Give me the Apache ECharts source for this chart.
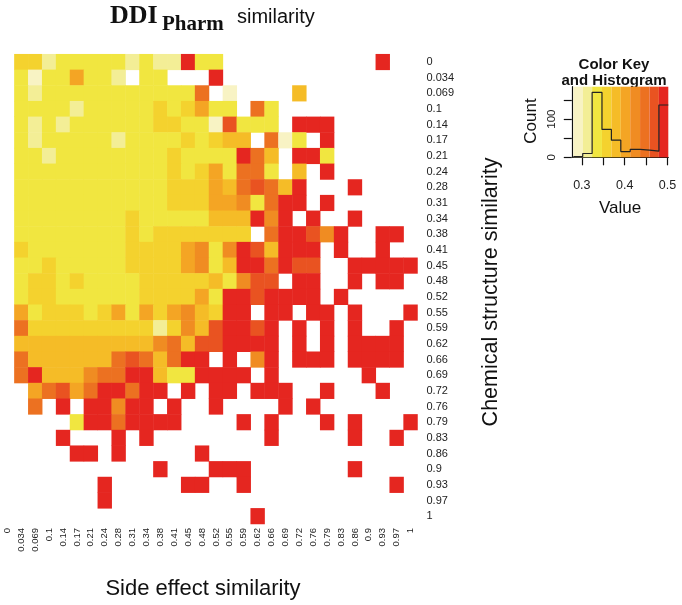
<!DOCTYPE html>
<html><head><meta charset="utf-8">
<script src="https://cdn.jsdelivr.net/npm/echarts@6/dist/echarts.min.js"></script>
<style>html,body{margin:0;padding:0;background:#fff}#c{width:682px;height:605px}</style>
</head><body><div id="c"></div>
<script>
// Tick labels (shared by both axes of the heatmap)
const tickLabels = ['0','0.034','0.069','0.1','0.14','0.17','0.21','0.24','0.28','0.31','0.34','0.38','0.41','0.45','0.48','0.52','0.55','0.59','0.62','0.66','0.69','0.72','0.76','0.79','0.83','0.86','0.9','0.93','0.97','1'];
const _ = null;
// cell values: rows = chemical structure similarity (top=0), columns = side effect similarity
const cellRows = [
/*0*/ [_,.36,.36,.31,.335,.335,.335,.335,.335,.31,.335,.31,.31,.49,.335,.335,_,_,_,_,_,_,_,_,_,_,_,.49,_,_],
/*1*/ [_,.335,.29,.335,.335,.40,.335,.335,.31,_,.335,.335,_,_,_,.49,_,_,_,_,_,_,_,_,_,_,_,_,_,_],
/*2*/ [_,.335,.31,.335,.335,.335,.335,.335,.335,.335,.335,.335,.335,.335,.445,_,.29,_,_,_,_,.38,_,_,_,_,_,_,_,_],
/*3*/ [_,.335,.335,.335,.335,.31,.335,.335,.335,.335,.335,.36,.335,.36,.40,.335,.335,_,.445,.335,_,_,_,_,_,_,_,_,_,_],
/*4*/ [_,.335,.31,.335,.31,.335,.335,.335,.335,.335,.335,.36,.36,.335,.335,.29,.47,.335,.335,.335,_,.49,.49,.49,_,_,_,_,_,_],
/*5*/ [_,.335,.31,.335,.335,.335,.335,.335,.31,.335,.335,.335,.335,.36,.335,.36,.38,.38,_,.445,.29,.335,_,.49,_,_,_,_,_,_],
/*6*/ [_,.335,.335,.31,.335,.335,.335,.335,.335,.335,.335,.335,.36,.335,.335,.335,.335,.49,.445,.38,_,.49,.49,.335,_,_,_,_,_,_],
/*7*/ [_,.335,.335,.335,.335,.335,.335,.335,.335,.335,.335,.335,.36,.335,.36,.40,.335,.445,.445,.335,_,.38,_,.49,_,_,_,_,_,_],
/*8*/ [_,.335,.335,.335,.335,.335,.335,.335,.335,.335,.335,.335,.36,.36,.36,.40,.38,.445,.47,.445,.38,.49,_,_,_,.49,_,_,_,_],
/*9*/ [_,.335,.335,.335,.335,.335,.335,.335,.335,.335,.335,.335,.36,.36,.36,.40,.40,.425,.335,.445,.49,.49,_,.49,_,_,_,_,_,_],
/*10*/[_,.335,.335,.335,.335,.335,.335,.335,.335,.36,.335,.335,.335,.335,.335,.38,.38,.38,.49,.425,.49,_,.49,_,_,.49,_,_,_,_],
/*11*/[_,.335,.335,.335,.335,.335,.335,.335,.335,.36,.335,.36,.36,.36,.36,.36,.36,.36,_,.445,.49,.49,.47,.425,.49,_,_,.49,.49,_],
/*12*/[_,.36,.335,.335,.335,.335,.335,.335,.335,.36,.36,.36,.36,.40,.425,.335,.425,.49,.47,.38,.49,.49,.49,_,.49,_,_,.49,_,_],
/*13*/[_,.335,.335,.36,.335,.335,.335,.335,.335,.36,.36,.36,.36,.40,.425,.335,.38,.49,.49,.445,.49,.47,.47,_,_,.49,.49,.49,.49,.49],
/*14*/[_,.335,.36,.36,.335,.36,.335,.335,.335,.335,.36,.36,.36,.36,.36,.38,.335,.425,.47,.47,_,.49,.49,_,_,.49,_,.49,.49,_],
/*15*/[_,.335,.36,.36,.335,.335,.335,.335,.335,.335,.36,.36,.36,.36,.40,.335,.49,.49,.47,.49,.49,.49,.49,_,.49,_,_,_,_,_],
/*16*/[_,.40,.335,.36,.36,.36,.335,.36,.40,.335,.40,.36,.40,.425,.38,.36,.49,.49,_,.49,.49,_,.49,.49,_,.49,_,_,_,.49],
/*17*/[_,.445,.36,.36,.36,.36,.36,.36,.36,.36,.36,.31,.36,.425,.38,.47,.49,.49,.47,.49,_,.49,_,.49,_,.49,_,_,.49,_],
/*18*/[_,.38,.38,.38,.38,.38,.38,.38,.38,.38,.38,.425,.445,.38,.47,.47,.49,.49,.49,.49,_,.49,_,.49,_,.49,.49,.49,.49,_],
/*19*/[_,.445,.38,.38,.38,.38,.38,.38,.445,.47,.445,.38,.445,.49,.49,_,.49,_,.425,.49,_,.49,.49,.49,_,.49,.49,.49,.49,_],
/*20*/[_,.445,.49,.38,.38,.38,.425,.445,.445,.49,.49,.38,.335,.335,.49,.49,.49,.49,_,.49,_,_,_,_,_,_,.49,_,_,_],
/*21*/[_,_,.40,.445,.47,.40,.445,.49,.49,.445,.49,.49,_,.49,_,.49,.49,_,.49,.49,.49,_,_,.49,_,_,_,.49,_,_],
/*22*/[_,_,.445,_,.49,_,.49,.49,.425,.49,.49,_,.49,_,_,.49,_,_,_,_,.49,_,.49,_,_,_,_,_,_,_],
/*23*/[_,_,_,_,_,.335,.49,.49,.445,.49,.49,.49,.49,_,_,_,_,.49,_,.49,_,_,_,.49,_,.49,_,_,_,.49],
/*24*/[_,_,_,_,.49,_,_,_,.49,_,.49,_,_,_,_,_,_,_,_,.49,_,_,_,_,_,.49,_,_,.49,_],
/*25*/[_,_,_,_,_,.49,.49,_,.49,_,_,_,_,_,.49,_,_,_,_,_,_,_,_,_,_,_,_,_,_,_],
/*26*/[_,_,_,_,_,_,_,_,_,_,_,.49,_,_,_,.49,.49,.49,_,_,_,_,_,_,_,.49,_,_,_,_],
/*27*/[_,_,_,_,_,_,_,.49,_,_,_,_,_,.49,.49,_,_,.49,_,_,_,_,_,_,_,_,_,_,.49,_],
/*28*/[_,_,_,_,_,_,_,.49,_,_,_,_,_,_,_,_,_,_,_,_,_,_,_,_,_,_,_,_,_,_],
/*29*/[_,_,_,_,_,_,_,_,_,_,_,_,_,_,_,_,_,_,.49,_,_,_,_,_,_,_,_,_,_,_]
];
// Color key bins and histogram
const keyEdges = [0.280, 0.302, 0.324, 0.347, 0.369, 0.391, 0.413, 0.436, 0.458, 0.480, 0.502];
const keyColors = ['#F8F3C4','#F3EE96','#F1E640','#F4D22E','#F5BC27','#F4A524','#F08C22','#EC7121','#E95321','#E52620'];
const histCounts = [2, 10, 170, 73, 45, 15, 21, 19, 16, 137];
const keyTickValues = [0.3, 0.35, 0.4, 0.45, 0.5];
const keyLabelValues = [0.3, 0.4, 0.5];
const countTickValues = [0, 50, 100, 150];
const countLabelValues = [0, 100];

const heatData = [];
cellRows.forEach((row, r) => row.forEach((v, c) => { if (v !== null) heatData.push([c, r, v]); }));

const histLine = histCounts.map((n, i) => [keyEdges[i], n]);
histLine.push([keyEdges[keyEdges.length - 1], histCounts[histCounts.length - 1]]);

const pieces = keyColors.map((col, i) => (i === keyColors.length - 1)
  ? { gte: keyEdges[i], lte: keyEdges[i + 1], color: col }
  : { gte: keyEdges[i], lt: keyEdges[i + 1], color: col });

const bands = keyColors.map((col, i) => [
  { xAxis: keyEdges[i], itemStyle: { color: col, opacity: 1 } },
  { xAxis: keyEdges[i + 1] }
]);

const SANS = 'Liberation Sans, Arial, sans-serif';
const SERIF = 'Liberation Serif, Times New Roman, serif';

const chart = echarts.init(document.getElementById('c'), null, { renderer: 'canvas' });
chart.setOption({
  animation: false,
  backgroundColor: '#fff',
  grid: [
    { left: 0.5, top: 54.2, width: 417, height: 469.8 },
    { left: 573.3, top: 86.7, width: 95, height: 70.6 }
  ],
  xAxis: [
    { type: 'category', gridIndex: 0, data: tickLabels, position: 'bottom',
      axisLine: { show: false }, axisTick: { show: false }, splitLine: { show: false },
      axisLabel: { rotate: 90, interval: 0, fontSize: 9.5, margin: 4, color: '#222', fontFamily: SANS } },
    { type: 'value', gridIndex: 1, min: keyEdges[0], max: keyEdges[keyEdges.length - 1],
      splitLine: { show: false },
      axisLine: { show: true, onZero: false, lineStyle: { color: '#111', width: 1.2 } },
      axisTick: { show: true, length: 8, customValues: keyTickValues, lineStyle: { color: '#111', width: 1.2 } },
      axisLabel: { customValues: keyLabelValues, margin: 22, fontSize: 12.5, color: '#222', fontFamily: SANS,
        formatter: v => v.toFixed(1) } }
  ],
  yAxis: [
    { type: 'category', gridIndex: 0, data: tickLabels, inverse: true, position: 'right',
      axisLine: { show: false }, axisTick: { show: false }, splitLine: { show: false },
      axisLabel: { interval: 0, fontSize: 11, margin: 9, color: '#222', fontFamily: SANS } },
    { type: 'value', gridIndex: 1, min: 0, max: 185, position: 'left', offset: 1.5,
      splitLine: { show: false },
      axisLine: { show: true, onZero: false, lineStyle: { color: '#111', width: 1.2 } },
      axisTick: { show: true, length: 8, customValues: countTickValues, lineStyle: { color: '#111', width: 1.2 } },
      axisLabel: { customValues: countLabelValues, rotate: 90, margin: 14, fontSize: 11.5, color: '#222', fontFamily: SANS } }
  ],
  visualMap: { type: 'piecewise', show: false, seriesIndex: 0, dimension: 2, pieces: pieces },
  series: [
    { type: 'heatmap', xAxisIndex: 0, yAxisIndex: 0, data: heatData, progressive: 0,
      itemStyle: { borderWidth: 0 }, emphasis: { disabled: true } },
    { type: 'line', xAxisIndex: 1, yAxisIndex: 1, data: histLine, step: 'end', symbol: 'none',
      lineStyle: { color: '#222', width: 1.2 }, silent: true, z: 5,
      markArea: { silent: true, data: bands } }
  ],
  graphic: [
    { type: 'text', x: 110, y: 16, style: { text: 'DDI', font: 'bold 26px ' + SERIF, fill: '#111', verticalAlign: 'middle' } },
    { type: 'text', x: 162, y: 25, style: { text: 'Pharm', font: 'bold 21px ' + SERIF, fill: '#111', verticalAlign: 'middle' } },
    { type: 'text', x: 237, y: 17, style: { text: 'similarity', font: '20px ' + SANS, fill: '#111', verticalAlign: 'middle' } },
    { type: 'text', x: 203, y: 589, style: { text: 'Side effect similarity', font: '22px ' + SANS, fill: '#111', align: 'center', verticalAlign: 'middle' } },
    { type: 'text', x: 491, y: 292, rotation: Math.PI / 2, style: { text: 'Chemical structure similarity', font: '21.5px ' + SANS, fill: '#111', align: 'center', verticalAlign: 'middle' } },
    { type: 'text', x: 614, y: 65, style: { text: 'Color Key', font: 'bold 15px ' + SANS, fill: '#111', align: 'center', verticalAlign: 'middle' } },
    { type: 'text', x: 614, y: 81, style: { text: 'and Histogram', font: 'bold 15px ' + SANS, fill: '#111', align: 'center', verticalAlign: 'middle' } },
    { type: 'text', x: 531, y: 121, rotation: Math.PI / 2, style: { text: 'Count', font: '17px ' + SANS, fill: '#111', align: 'center', verticalAlign: 'middle' } },
    { type: 'text', x: 620, y: 208, style: { text: 'Value', font: '17px ' + SANS, fill: '#111', align: 'center', verticalAlign: 'middle' } }
  ]
});
</script>
</body></html>
